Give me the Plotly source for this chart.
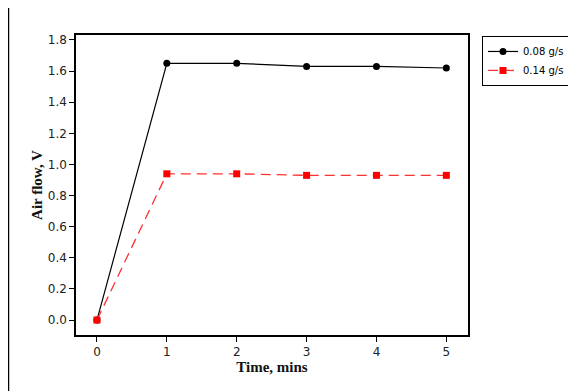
import plotly.graph_objects as go

time_mins = [0, 1, 2, 3, 4, 5]
flow_008 = [0.0, 1.65, 1.65, 1.63, 1.63, 1.62]
flow_014 = [0.0, 0.94, 0.94, 0.93, 0.93, 0.93]
series_names = ["0.08 g/s", "0.14 g/s"]
y_ticks = [0.0, 0.2, 0.4, 0.6, 0.8, 1.0, 1.2, 1.4, 1.6, 1.8]

fig = go.Figure()
fig.add_trace(go.Scatter(
    x=time_mins, y=flow_008, name=series_names[0], mode="lines+markers",
    line=dict(color="black", width=1.2),
    marker=dict(symbol="circle", size=7, color="black"),
))
fig.add_trace(go.Scatter(
    x=time_mins, y=flow_014, name=series_names[1], mode="lines+markers",
    line=dict(color="#ff3030", width=1.3, dash="10px,6px"),
    marker=dict(symbol="square", size=7, color="#ff0000"),
))

tick_font = dict(family="DejaVu Sans", size=12, color="#222222")
title_font = dict(family="Liberation Serif", size=15, color="#111111")

# page body has an 8px default margin, so the figure is sized to fill the rest
fig.update_layout(
    width=568, height=383,
    margin=dict(l=68, r=108, t=27, b=56),
    paper_bgcolor="white", plot_bgcolor="white",
    showlegend=True,
    legend=dict(
        xref="container", yref="container",
        x=0.8345, y=0.927, xanchor="left", yanchor="top",
        bordercolor="black", borderwidth=1, bgcolor="white",
        font=dict(family="DejaVu Sans", size=10, color="black"),
        tracegroupgap=0, itemwidth=30,
    ),
    xaxis=dict(
        range=[-0.30, 5.31], tickvals=time_mins, ticktext=[str(t) for t in time_mins],
        showgrid=False, zeroline=False, showline=True, linecolor="black", linewidth=1.5,
        mirror=True, ticks="outside", ticklen=5, tickcolor="black",
        tickfont=tick_font,
        title=dict(text="<b>Time, mins</b>", font=title_font, standoff=3),
    ),
    yaxis=dict(
        range=[-0.096, 1.832], tickvals=y_ticks, ticktext=[f"{v:.1f}" for v in y_ticks],
        showgrid=False, zeroline=False, showline=True, linecolor="black", linewidth=1.5,
        mirror=True, ticks="outside", ticklen=5, tickcolor="black",
        tickfont=tick_font,
        title=dict(text="<b>Air flow, V</b>", font=title_font, standoff=2),
    ),
)

fig.add_shape(type="line", xref="paper", yref="paper",
              x0=-0.1722, x1=-0.1722, y0=-0.2, y1=1.12,
              line=dict(color="black", width=1.5))

fig.write_html("out.html")
